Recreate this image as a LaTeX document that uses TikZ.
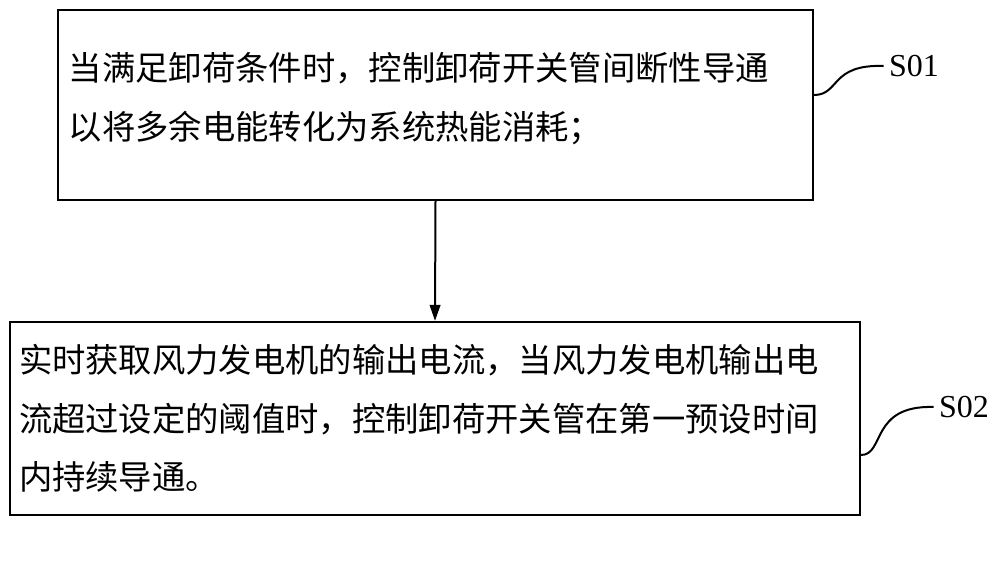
\documentclass[tikz,border=0pt]{standalone}
\usepackage{fontspec}
\setmainfont{Liberation Serif}
\newfontfamily\cjk{Noto Sans CJK SC}
\usetikzlibrary{arrows.meta}
\tikzset{every picture/.style={line width=1.5pt}}
\tikzset{
	stepbox/.style={draw, rectangle, inner sep=0pt, align=left, font=\cjk\fontsize{25}{44}\selectfont},
	steplabel/.style={font=\fontsize{24}{26}\selectfont}}

\begin{document}
\begin{tikzpicture}[x=0.75pt,y=0.75pt,yscale=-1,xscale=1]
	\useasboundingbox (0,0) rectangle (1000,586);

	%Box S01
	\node [stepbox, minimum width=566pt, minimum height=142.5pt, text width=550pt] (s01) at (435.5,105)
		{当满足卸荷条件时，控制卸荷开关管间断性导通\\以将多余电能转化为系统热能消耗；\vspace{10pt}};
	%Box S02
	\node [stepbox, minimum width=637.5pt, minimum height=145pt, text width=624pt] (s02) at (435,418.5)
		{实时获取风力发电机的输出电流，当风力发电机输出电\\流超过设定的阈值时，控制卸荷开关管在第一预设时间\\内持续导通。};

	%Arrow
	\draw [-{Triangle[length=12pt,width=8pt]}] (s01.south) -- (s02.north);

	%Labels
	\node [steplabel] (l01) at (914,66) {S01};
	\node [steplabel] (l02) at (964,407) {S02};
	\coordinate (c01) at (s01.east |- 0,95);
	\coordinate (c02) at (s02.east |- 0,455);
	\draw (c01) .. controls (840,95) and (830,64) .. (l01.west);
	\draw (c02) .. controls (885,455) and (870,405) .. (l02.west);

\end{tikzpicture}
\end{document}
